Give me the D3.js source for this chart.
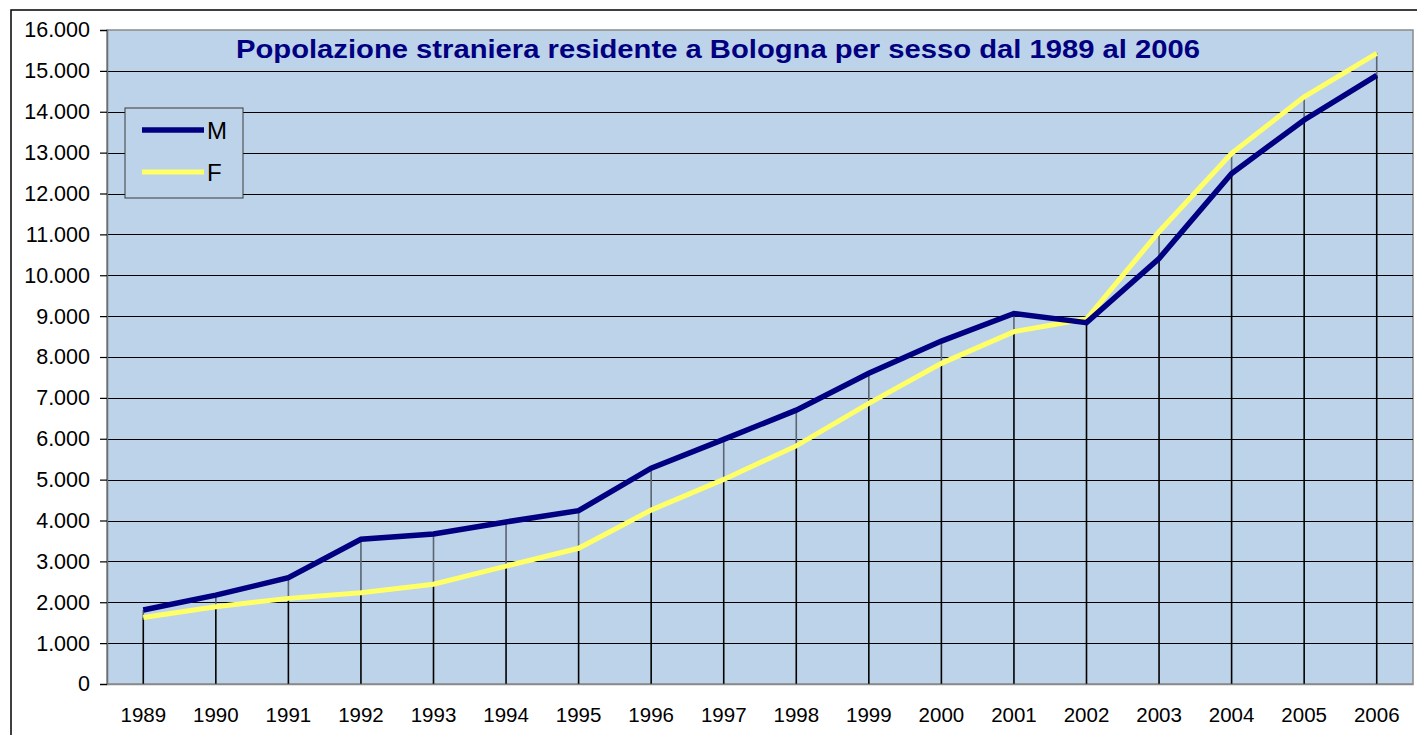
<!DOCTYPE html>
<html>
<head>
<meta charset="utf-8">
<script src="https://cdn.jsdelivr.net/npm/d3@7"></script>
<style>
  body { margin: 0; background: #fff; }
  svg { display: block; font-family: "Liberation Sans", Arial, sans-serif; }
</style>
</head>
<body>
<svg class="chart" width="1417" height="735"></svg>
<script>
(function () {

    'use strict';

    var years = ['1989', '1990', '1991', '1992', '1993', '1994', '1995', '1996', '1997',
                 '1998', '1999', '2000', '2001', '2002', '2003', '2004', '2005', '2006'];
    var maschi = [1810, 2175, 2600, 3540, 3670, 3965, 4240, 5280, 5985,
                  6700, 7600, 8390, 9065, 8840, 10410, 12490, 13800, 14890];
    var femmine = [1625, 1890, 2095, 2235, 2440, 2885, 3320, 4255, 5005,
                   5825, 6865, 7845, 8620, 8930, 11065, 12985, 14365, 15430];
    var yTicks = d3.range(0, 16001, 1000);
    var title = 'Popolazione straniera residente a Bologna per sesso dal 1989 al 2006';

    var series = [
        { key: 'M', values: maschi, color: '#000080', width: 5.5 },
        { key: 'F', values: femmine, color: '#ffff66', width: 5 }
    ];

    var svg = d3.select('svg.chart');
    var margin = { top: 30, right: 4, bottom: 51, left: 107 };
    var width = 1417 - margin.left - margin.right;
    var height = 735 - margin.top - margin.bottom;

    var it = d3.formatLocale({ decimal: ',', thousands: '.', grouping: [3], currency: ['', '€'] });
    var fmt = it.format(',d');

    var x = d3.scaleBand().domain(years).range([0, width]).padding(0);
    var y = d3.scaleLinear().domain([0, 16000]).range([height, 0]);
    var cx = function (i) { return x(years[i]) + x.bandwidth() / 2; };

    // outer chart frame
    svg.append('path')
        .attr('d', 'M11,735V10H1417')
        .attr('fill', 'none')
        .attr('stroke', '#000')
        .attr('stroke-width', 1.5);

    var g = svg.append('g').attr('transform', 'translate(' + margin.left + ',' + margin.top + ')');

    g.append('rect')
        .attr('width', width)
        .attr('height', height)
        .attr('fill', '#bdd3e9')
        .attr('stroke', '#8a8a8a')
        .attr('stroke-width', 1.5);

    // horizontal gridlines
    g.append('g')
        .selectAll('line')
        .data(yTicks.filter(function (d) { return d > 0 && d < 16000; }))
        .enter().append('line')
        .attr('x1', 0)
        .attr('x2', width)
        .attr('y1', function (d) { return Math.round(y(d)) + 0.5; })
        .attr('y2', function (d) { return Math.round(y(d)) + 0.5; })
        .attr('stroke', '#000')
        .attr('stroke-width', 1.2);

    // drop lines
    var drops = g.append('g');
    years.forEach(function (yr, i) {
        var hi = Math.max(maschi[i], femmine[i]);
        var lo = Math.min(maschi[i], femmine[i]);
        drops.append('line')
            .attr('x1', cx(i)).attr('x2', cx(i))
            .attr('y1', y(hi)).attr('y2', y(lo))
            .attr('stroke', '#5a6472')
            .attr('stroke-width', 1.6);
        drops.append('line')
            .attr('x1', cx(i)).attr('x2', cx(i))
            .attr('y1', y(lo)).attr('y2', height)
            .attr('stroke', '#000')
            .attr('stroke-width', 1.6);
    });

    // y axis
    var yAxis = g.append('g')
        .call(d3.axisLeft(y).tickValues(yTicks).tickFormat(fmt).tickSize(7).tickPadding(10));
    yAxis.select('.domain').attr('stroke', '#6e6e6e').attr('stroke-width', 1.5);
    yAxis.selectAll('.tick line').attr('stroke', '#000').attr('stroke-width', 1.2);
    yAxis.selectAll('text')
        .attr('font-size', 21.5)
        .attr('font-family', '"Liberation Sans", Arial, sans-serif')
        .attr('fill', '#000');

    // x axis
    var xAxis = g.append('g')
        .attr('transform', 'translate(0,' + height + ')')
        .call(d3.axisBottom(x).tickSize(0).tickPadding(23));
    xAxis.select('.domain').attr('stroke', '#8a8a8a').attr('stroke-width', 1.5);
    xAxis.selectAll('text')
        .attr('font-size', 20.5)
        .attr('font-family', '"Liberation Sans", Arial, sans-serif')
        .attr('fill', '#000');

    // series lines
    var line = d3.line()
        .x(function (d, i) { return cx(i); })
        .y(function (d) { return y(d); });

    g.append('g')
        .selectAll('path')
        .data(series.slice().reverse())
        .enter().append('path')
        .attr('d', function (d) { return line(d.values); })
        .attr('fill', 'none')
        .attr('stroke', function (d) { return d.color; })
        .attr('stroke-width', function (d) { return d.width; })
        .attr('stroke-linejoin', 'miter');

    // title
    svg.append('text')
        .attr('x', 236)
        .attr('y', 58)
        .attr('font-size', 25)
        .attr('font-weight', 'bold')
        .attr('fill', '#000080')
        .attr('textLength', 964)
        .attr('lengthAdjust', 'spacingAndGlyphs')
        .text(title);

    // legend
    var legend = svg.append('g').attr('transform', 'translate(125,108)');
    legend.append('rect')
        .attr('width', 118)
        .attr('height', 90)
        .attr('fill', '#bdd3e9')
        .attr('stroke', '#3a3a3a')
        .attr('stroke-width', 1);

    var item = legend.selectAll('g.item')
        .data(series)
        .enter().append('g')
        .attr('class', 'item')
        .attr('transform', function (d, i) { return 'translate(0,' + (22 + i * 42) + ')'; });

    item.append('line')
        .attr('x1', 17)
        .attr('x2', 79)
        .attr('stroke', function (d) { return d.color; })
        .attr('stroke-width', function (d) { return d.width; });

    item.append('text')
        .attr('x', 82)
        .attr('dy', '0.36em')
        .attr('font-size', 24)
        .attr('fill', '#000')
        .text(function (d) { return d.key; });

})();
</script>
</body>
</html>
